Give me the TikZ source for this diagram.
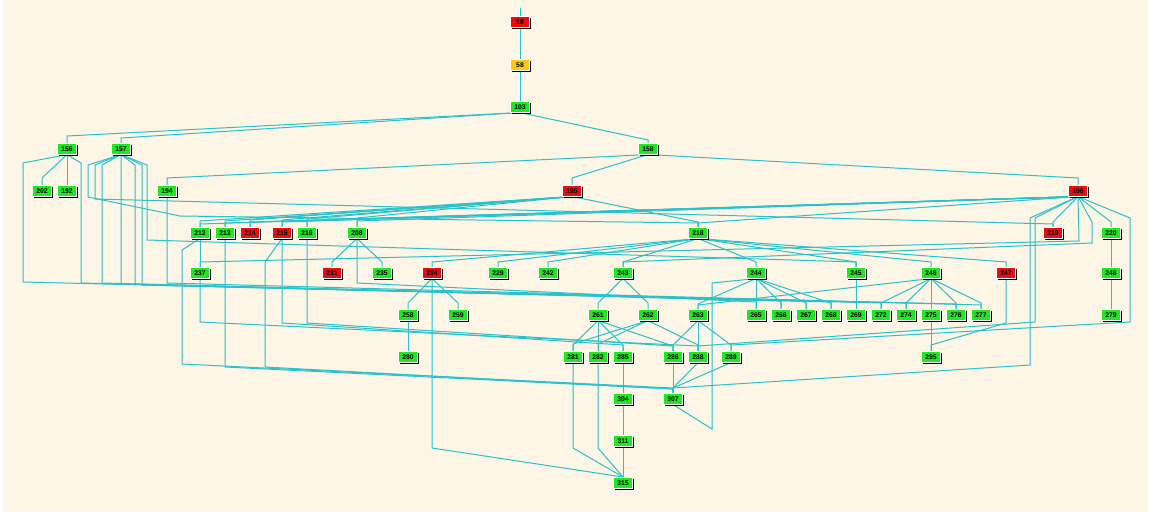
\documentclass[tikz,border=0pt]{standalone}
\usepackage{fontspec}
\setsansfont{Liberation Sans}
\usetikzlibrary{shadows}
\definecolor{paper}{RGB}{253,245,230}
\definecolor{wire}{RGB}{40,194,204}
\definecolor{okgreen}{RGB}{30,232,30}
\definecolor{failred}{RGB}{236,12,12}
\definecolor{warnyellow}{RGB}{255,204,0}
\pgfdeclarelayer{paperlayer}
\pgfdeclarelayer{wires}
\pgfsetlayers{paperlayer,wires,main}
\tikzset{
  job/.style={rectangle, minimum width=19pt, minimum height=10.5pt, inner sep=0pt,
    draw=white, line width=0.6pt, text=black,
    font=\sffamily\bfseries\fontsize{6.8}{7}\selectfont,
    general shadow={fill=black, shadow xshift=1.8pt, shadow yshift=-1.6pt}},
  ok/.style={job, fill=okgreen},
  fail/.style={job, fill=failred},
  hold/.style={job, fill=warnyellow},
  wire/.style={draw=wire, line width=1pt}
}

\begin{document}
\begin{tikzpicture}[x=1pt,y=-1pt]
  \useasboundingbox (0,0) rectangle (1151,516);
  \begin{pgfonlayer}{paperlayer}
    \fill[white] (0,0) rectangle (1151,516);
    \fill[paper] (3,0) rectangle (1148,512);
  \end{pgfonlayer}

  % Jobs
  \node[fail] (n18) at (520,22) {18};
  \node[hold] (n58) at (520,65) {58};
  \foreach \n/\x/\y in {103/520/107, 156/67/149, 157/121/149, 158/648/149,
      202/42/191, 192/67/191, 194/167/191,
      212/200/233, 213/225/233, 216/307/233, 208/357/233, 218/698/233, 220/1111/233,
      237/200/273, 235/382/273, 229/498/273, 242/548/273, 243/623/273, 244/756/273,
      245/856/273, 246/931/273, 248/1111/273,
      258/408/315, 259/458/315, 261/598/315, 262/648/315, 263/698/315,
      265/756/315, 266/781/315, 267/806/315, 268/831/315, 269/856/315, 272/881/315,
      274/906/315, 275/931/315, 276/956/315, 277/981/315, 279/1111/315,
      280/408/357, 281/573/357, 282/598/357, 285/623/357, 286/673/357, 288/698/357,
      289/731/357, 295/931/357,
      304/623/399, 307/673/399, 311/623/441, 315/623/483}
    \node[ok] (n\n) at (\x,\y) {\n};
  \foreach \n/\x/\y in {195/572/191, 196/1078/191, 214/250/233, 215/282/233,
      219/1053/233, 231/332/273, 234/432/273, 247/1006/273}
    \node[fail] (n\n) at (\x,\y) {\n};

  \begin{pgfonlayer}{wires}
  % Straight links
  \coordinate (feed) at (520,8);
  \draw[wire] (feed) -- (n18.north);
  \foreach \a/\b in {18/58, 58/103, 156/192, 212/237, 258/280, 261/282, 263/288,
      244/265, 245/269, 246/275, 275/295, 220/248, 248/279, 285/304, 304/311,
      311/315, 286/307}
    \draw[wire] (n\a.south) -- (n\b.north);

  % Fan-out links
  \foreach \a/\b/\y in {103/156/136, 103/157/138, 103/158/140, 156/202/178,
      158/194/178, 158/196/178, 158/195/178,
      195/218/222, 195/212/221, 195/213/221, 195/214/220, 195/215/220,
      195/216/219, 195/208/218,
      196/218/223, 196/214/222, 196/215/222, 196/216/221, 196/219/222, 196/220/222,
      196/212/224, 196/213/223, 196/208/221,
      208/231/262, 208/235/262,
      218/229/262, 218/242/262, 218/243/262, 218/244/262, 218/245/262,
      218/246/262, 218/247/262, 218/234/262,
      234/258/303, 234/259/303, 243/261/303, 243/262/303,
      244/266/303, 244/267/303, 244/268/303, 244/263/304,
      246/272/303, 246/274/303, 246/276/303, 246/277/303, 246/263/305,
      261/281/345, 261/285/345, 261/286/346, 262/281/344, 262/282/344,
      262/288/345, 263/286/345, 263/289/345, 288/307/388, 289/307/388}
    \draw[wire] (n\a.south) -- (n\b.north |- 0,\y) -- (n\b.north);

  % Long runs on the left
  \draw[wire] (n156.south) -- (23,163) -- (23,282) -- (831,302) -- (n268.north);
  \draw[wire] (n156.south) -- (81,163) -- (81,283) -- (881,303) -- (n272.north);
  \draw[wire] (n157.south) -- (102,165) -- (102,283) -- (781,301) -- (n266.north);
  \draw[wire] (n157.south) -- (121,284) -- (806,301) -- (n267.north);
  \draw[wire] (n157.south) -- (135,165) -- (135,284) -- (906,303) -- (n274.north);
  \draw[wire] (n157.south) -- (142,165) -- (142,285) -- (956,304) -- (n276.north);
  \draw[wire] (n157.south) -- (88,165) -- (88,197) -- (180,216) -- (698,223) -- (n218.north);
  \draw[wire] (n157.south) -- (95,165) -- (95,199) -- (1053,224) -- (n219.north);
  \draw[wire] (n157.south) -- (147,165) -- (147,240) -- (856,262) -- (n245.north);
  \draw[wire] (n194.south) -- (167,283) -- (981,305) -- (n277.north);
  \draw[wire] (n212.south) -- (182,250) -- (182,364) -- (673,388) -- (n307.north);
  \draw[wire] (n213.south) -- (225,367) -- (673,389) -- (n307.north);
  \draw[wire] (n215.south) -- (265,262) -- (265,367) -- (673,389) -- (n307.north);
  \draw[wire] (n215.south) -- (282,323) -- (623,345) -- (n285.north);
  \draw[wire] (n216.south) -- (307,323) -- (673,346) -- (n286.north);
  \draw[wire] (n237.south) -- (200,322) -- (698,346) -- (n288.north);
  \draw[wire] (n208.south) -- (357,283) -- (756,302) -- (n265.north);

  % Down to the sink
  \draw[wire] (n234.south) -- (432,448) -- (623,477) -- (n315.north);
  \draw[wire] (n281.south) -- (573,448) -- (623,477) -- (n315.north);
  \draw[wire] (n282.south) -- (598,448) -- (623,477) -- (n315.north);
  \draw[wire] (n244.south) -- (712,283) -- (712,429) -- (n307.south);

  % Long runs on the right
  \draw[wire] (n196.south) -- (1030,218) -- (1030,365) -- (673,388) -- (n307.north);
  \draw[wire] (n196.south) -- (1035,218) -- (1035,322) -- (698,346) -- (n288.north);
  \draw[wire] (n196.south) -- (1130,218) -- (1130,322) -- (731,345) -- (n289.north);
  \draw[wire] (n196.south) -- (1092,222) -- (1092,243) -- (623,262) -- (n243.north);
  \draw[wire] (n196.south) -- (1079,241) -- (200,262) -- (n237.north);
  \draw[wire] (n247.south) -- (1006,323) -- (931,345) -- (n295.north);
  \end{pgfonlayer}
\end{tikzpicture}
\end{document}
